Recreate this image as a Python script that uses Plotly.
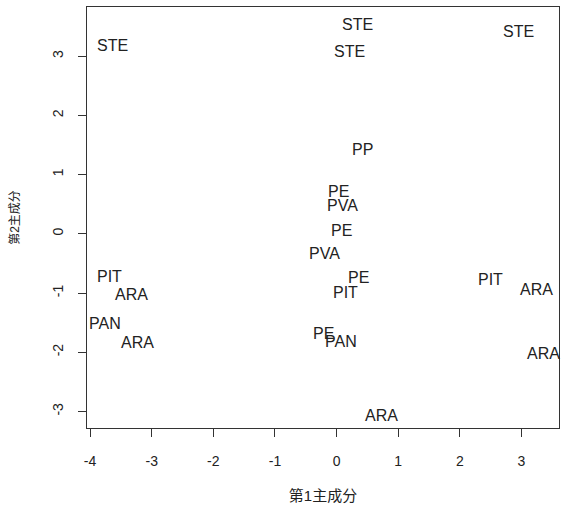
import plotly.graph_objects as go

# Sample labels and their scores on the first two principal components
labels = ["STE", "STE", "STE", "STE",
          "PP", "PE", "PVA", "PE", "PVA", "PE", "PIT",
          "PIT", "ARA", "PAN", "ARA",
          "PE", "PAN", "ARA",
          "PIT", "ARA", "ARA"]
pc1 = [-3.635, 0.334, 0.204, 2.953,
       0.422, 0.026, 0.097, 0.081, -0.201, 0.350, 0.151,
       -3.678, -3.326, -3.760, -3.235,
       -0.217, 0.070, 0.730,
       2.504, 3.242, 3.352]
pc2 = [3.186, 3.540, 3.090, 3.427,
       1.444, 0.730, 0.489, 0.067, -0.315, -0.720, -0.973,
       -0.708, -1.011, -1.495, -1.815,
       -1.674, -1.798, -3.051,
       -0.758, -0.927, -2.001]

x_ticks = [-4, -3, -2, -1, 0, 1, 2, 3]
y_ticks = [-3, -2, -1, 0, 1, 2, 3]

FONT = "Liberation Sans, Arial, Noto Sans CJK SC, sans-serif"
INK = "#222222"
LINE = "#333333"

fig = go.Figure(
    go.Scatter(
        x=pc1, y=pc2, mode="markers",
        marker=dict(size=1, opacity=0),
        hoverinfo="skip",
    )
)

# Each sample is drawn as its label, centred on its score
for lab, px, py in zip(labels, pc1, pc2):
    fig.add_annotation(
        x=px, y=py, text=lab, showarrow=False,
        xanchor="center", yanchor="middle", yshift=-0.8,
        font=dict(family=FONT, size=16, color=INK),
    )

axis_common = dict(
    showgrid=False, zeroline=False,
    showline=True, linecolor=LINE, linewidth=1, mirror=True,
    ticks="outside", ticklen=8, tickwidth=1, tickcolor=LINE,
    tickfont=dict(family=FONT, size=14, color=INK),
)

fig.update_xaxes(
    range=[-4.05, 3.61], tickvals=x_ticks,
    ticktext=[str(v) for v in x_ticks],
    ticklabelstandoff=12,
    title=dict(text="第1主成分", font=dict(family=FONT, size=15, color=INK), standoff=22),
    **axis_common,
)
fig.update_yaxes(
    range=[-3.28, 3.83], tickvals=y_ticks,
    ticktext=[str(v) for v in y_ticks],
    tickangle=-90, ticklabelstandoff=9,
    title=dict(text="第2主成分", font=dict(family=FONT, size=12, color=INK), standoff=28),
    **axis_common,
)

fig.update_layout(
    width=563, height=508,
    margin=dict(l=87, r=4, t=7, b=80),
    paper_bgcolor="white", plot_bgcolor="white",
    showlegend=False,
)

fig.write_html("out.html")
